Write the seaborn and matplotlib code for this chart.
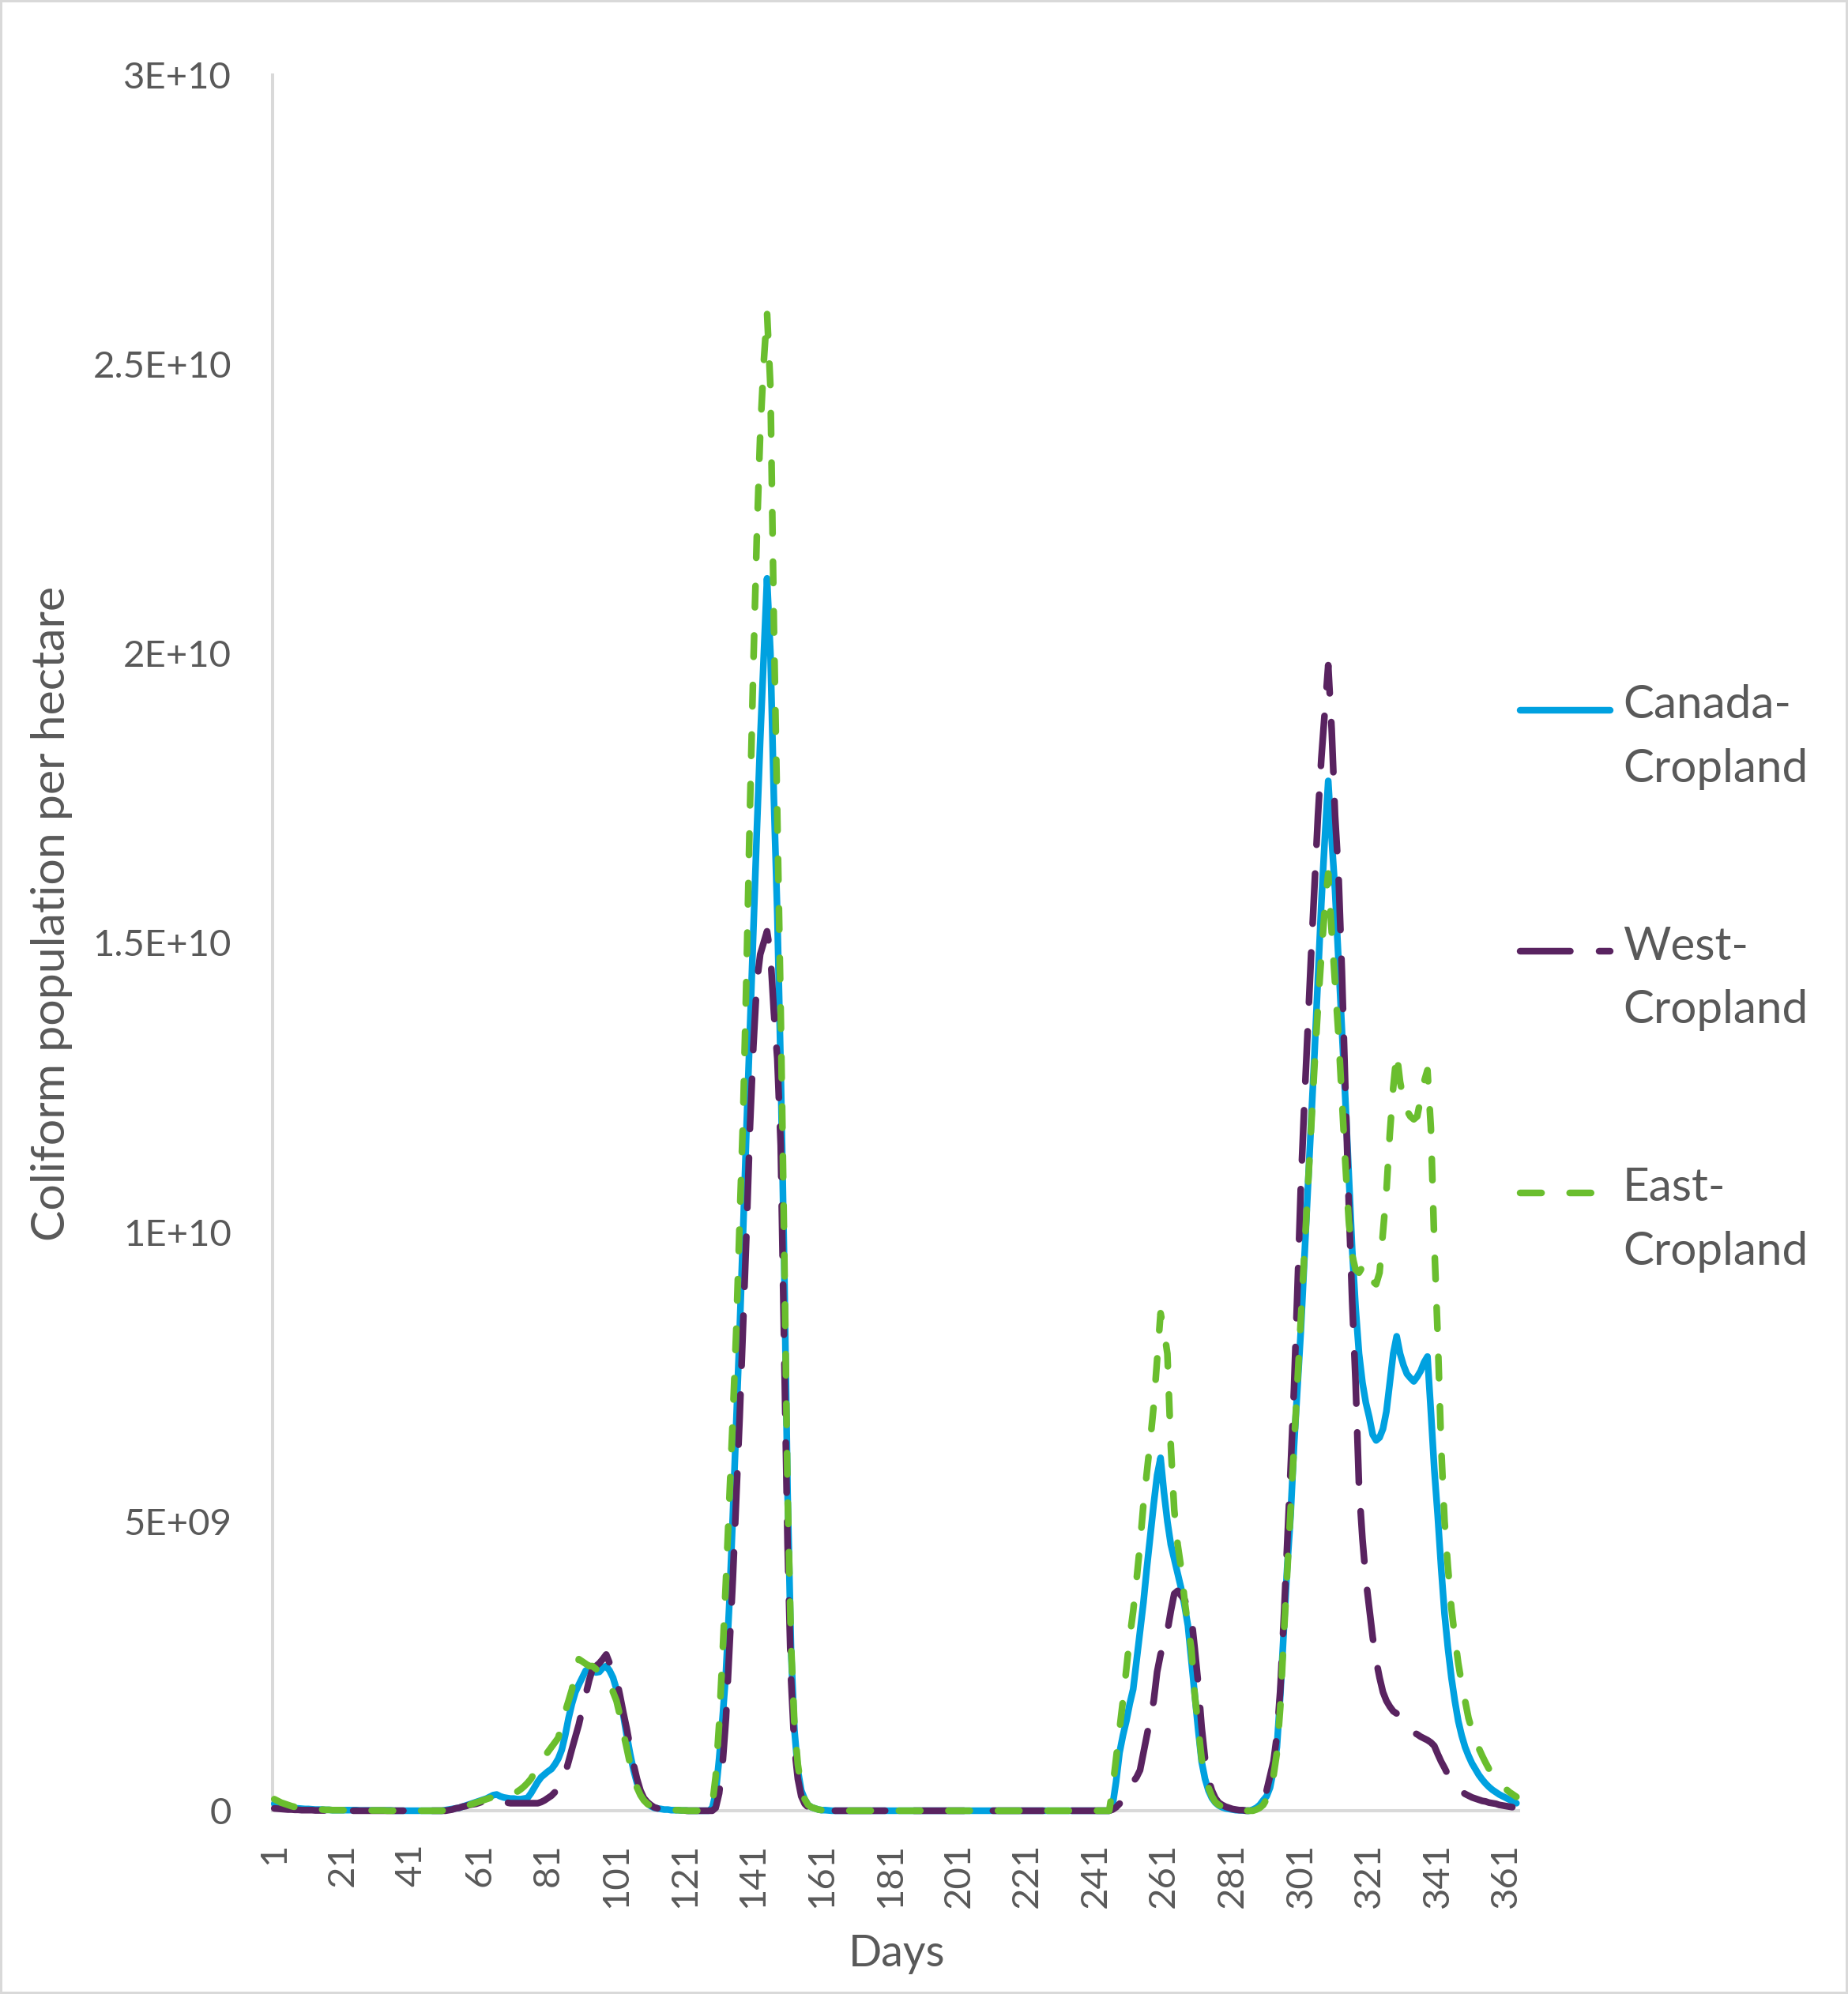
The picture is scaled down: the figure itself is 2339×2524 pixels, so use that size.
import numpy as np
import pandas as pd
import matplotlib
matplotlib.use("Agg")
import matplotlib.pyplot as plt
import seaborn as sns
from matplotlib.legend_handler import HandlerLine2D
from matplotlib.patches import Rectangle
from matplotlib.font_manager import FontProperties

# ---------------- data (values in units of 1E+09 coliforms per hectare) ----------------
days = list(range(1, 365))

canada_cropland = [
    0.12, 0.10, 0.08, 0.07, 0.06, 0.05, 0.045, 0.04, 0.035, 0.03,
    0.03, 0.025, 0.02, 0.02, 0.02, 0.015, 0.015, 0.01, 0.01, 0.01,
    0.01, 0.01, 0.01, 0.01, 0.01, 0.005, 0.005, 0.005, 0.005, 0.005,
    0.005, 0.005, 0.005, 0.005, 0.005, 0, 0, 0, 0, 0,
    0, 0, 0, 0, 0, 0, 0, 0, 0, 0,
    0.01, 0.02, 0.03, 0.04, 0.05, 0.07, 0.09, 0.11, 0.13, 0.15,
    0.17, 0.19, 0.21, 0.24, 0.27, 0.28, 0.25, 0.23, 0.22, 0.21,
    0.21, 0.20, 0.20, 0.21, 0.22, 0.30, 0.40, 0.50, 0.58, 0.63,
    0.68, 0.72, 0.80, 0.90, 1.05, 1.30, 1.60, 1.85, 2.05, 2.18,
    2.30, 2.42, 2.45, 2.42, 2.39, 2.40, 2.47, 2.50, 2.42, 2.30,
    2.10, 1.90, 1.65, 1.30, 0.98, 0.70, 0.48, 0.32, 0.20, 0.13,
    0.08, 0.05, 0.04, 0.03, 0.02, 0.02, 0.01, 0.01, 0.01, 0.005,
    0.005, 0, 0, 0, 0, 0, 0, 0, 0.05, 0.30,
    0.90, 1.60, 2.40, 3.60, 5.10, 6.70, 8.30, 10.0, 11.8, 13.5,
    15.2, 16.9, 18.5, 19.9, 21.3, 20.0, 17.5, 15.5, 12.8, 9.5,
    5.5, 2.8, 1.4, 0.70, 0.35, 0.20, 0.10, 0.06, 0.04, 0.02,
    0.01, 0.01, 0.005, 0, 0, 0, 0, 0, 0, 0,
    0, 0, 0, 0, 0, 0, 0, 0, 0, 0,
    0, 0, 0, 0, 0, 0, 0, 0, 0, 0,
    0, 0, 0, 0, 0, 0, 0, 0, 0, 0,
    0, 0, 0, 0, 0, 0, 0, 0, 0, 0,
    0, 0, 0, 0, 0, 0, 0, 0, 0, 0,
    0, 0, 0, 0, 0, 0, 0, 0, 0, 0,
    0, 0, 0, 0, 0, 0, 0, 0, 0, 0,
    0, 0, 0, 0, 0, 0.10, 0.50, 1.00, 1.30, 1.55,
    1.85, 2.10, 2.60, 3.10, 3.60, 4.20, 4.75, 5.30, 5.80, 6.10,
    5.50, 5.00, 4.60, 4.35, 4.10, 3.85, 3.55, 3.20, 2.60, 2.00,
    1.40, 0.85, 0.55, 0.35, 0.22, 0.14, 0.09, 0.06, 0.04, 0.03,
    0.02, 0.01, 0.01, 0.005, 0, 0, 0.02, 0.05, 0.10, 0.18,
    0.25, 0.40, 0.70, 1.10, 2.00, 3.10, 4.20, 5.10, 6.30, 7.30,
    8.3, 9.5, 10.7, 11.9, 13.1, 14.4, 15.7, 16.8, 17.8, 16.8,
    15.9, 14.7, 13.5, 12.3, 11.0, 9.7, 8.7, 7.9, 7.4, 7.05,
    6.8, 6.5, 6.4, 6.45, 6.6, 6.9, 7.4, 7.9, 8.2, 7.9,
    7.7, 7.55, 7.48, 7.42, 7.5, 7.6, 7.75, 7.85, 6.9, 5.9,
    5.1, 4.2, 3.4, 2.8, 2.3, 1.9, 1.55, 1.3, 1.1, 0.95,
    0.82, 0.72, 0.62, 0.54, 0.47, 0.41, 0.36, 0.32, 0.28, 0.25,
    0.22, 0.19, 0.16, 0.13,
]

west_cropland = [
    0.04, 0.035, 0.03, 0.025, 0.02, 0.02, 0.015, 0.015, 0.01, 0.01,
    0.01, 0.01, 0.005, 0.005, 0.005, 0.005, 0.005, 0, 0, 0,
    0, 0, 0, 0, 0, 0, 0, 0, 0, 0,
    0, 0, 0, 0, 0, 0, 0, 0, 0, 0,
    0, 0, 0, 0, 0, 0, 0, 0, 0, 0,
    0, 0.01, 0.02, 0.04, 0.05, 0.07, 0.08, 0.10, 0.11, 0.12,
    0.14, 0.16, 0.18, 0.20, 0.22, 0.22, 0.17, 0.15, 0.14, 0.13,
    0.13, 0.13, 0.13, 0.13, 0.13, 0.13, 0.13, 0.13, 0.15, 0.18,
    0.22, 0.26, 0.32, 0.42, 0.52, 0.64, 0.85, 1.07, 1.28, 1.49,
    1.75, 2.00, 2.25, 2.45, 2.50, 2.55, 2.62, 2.70, 2.55, 2.42,
    2.28, 2.00, 1.70, 1.42, 1.10, 0.80, 0.55, 0.35, 0.22, 0.15,
    0.10, 0.06, 0.04, 0.03, 0.02, 0.01, 0.01, 0.005, 0, 0,
    0, 0, 0, 0, 0, 0, 0, 0, 0, 0.05,
    0.30, 0.80, 1.60, 2.80, 4.00, 5.40, 6.80, 8.40, 10.0, 11.8,
    13.2, 14.3, 14.8, 15.0, 15.2, 14.8, 13.8, 13.0, 11.5, 8.0,
    4.6, 2.3, 1.1, 0.55, 0.25, 0.12, 0.06, 0.03, 0.02, 0.01,
    0.005, 0, 0, 0, 0, 0, 0, 0, 0, 0,
    0, 0, 0, 0, 0, 0, 0, 0, 0, 0,
    0, 0, 0, 0, 0, 0, 0, 0, 0, 0,
    0, 0, 0, 0, 0, 0, 0, 0, 0, 0,
    0, 0, 0, 0, 0, 0, 0, 0, 0, 0,
    0, 0, 0, 0, 0, 0, 0, 0, 0, 0,
    0, 0, 0, 0, 0, 0, 0, 0, 0, 0,
    0, 0, 0, 0, 0, 0, 0, 0, 0, 0,
    0, 0, 0, 0, 0, 0.02, 0.06, 0.12, 0.20, 0.30,
    0.40, 0.50, 0.58, 0.70, 1.00, 1.30, 1.60, 1.90, 2.40, 2.70,
    2.90, 3.10, 3.45, 3.75, 3.80, 3.72, 3.65, 3.50, 3.35, 2.80,
    2.20, 1.45, 0.90, 0.55, 0.35, 0.22, 0.14, 0.10, 0.07, 0.05,
    0.03, 0.02, 0.01, 0.01, 0, 0, 0.02, 0.05, 0.10, 0.20,
    0.35, 0.60, 0.85, 1.30, 2.10, 3.30, 4.60, 5.90, 7.30, 9.00,
    10.8, 12.2, 13.5, 14.8, 16.0, 17.2, 18.2, 19.0, 19.8, 18.7,
    17.2, 16.2, 14.5, 12.5, 10.5, 8.8, 7.4, 5.6, 4.7, 4.0,
    3.5, 3.0, 2.6, 2.3, 2.05, 1.9, 1.8, 1.72, 1.68, 1.6,
    1.52, 1.45, 1.4, 1.35, 1.32, 1.28, 1.25, 1.22, 1.18, 1.12,
    0.98, 0.85, 0.74, 0.62, 0.52, 0.44, 0.38, 0.33, 0.29, 0.26,
    0.23, 0.21, 0.19, 0.17, 0.16, 0.14, 0.13, 0.12, 0.10, 0.09,
    0.08, 0.07, 0.06, 0.05,
]

east_cropland = [
    0.20, 0.17, 0.14, 0.12, 0.10, 0.08, 0.065, 0.055, 0.045, 0.04,
    0.035, 0.03, 0.025, 0.02, 0.02, 0.015, 0.015, 0.01, 0.01, 0.01,
    0.01, 0.01, 0.01, 0.01, 0.005, 0.005, 0.005, 0.005, 0.005, 0.005,
    0.005, 0.005, 0.005, 0, 0, 0, 0, 0, 0, 0,
    0, 0, 0, 0, 0, 0, 0, 0, 0, 0,
    0.01, 0.02, 0.03, 0.04, 0.05, 0.07, 0.09, 0.10, 0.12, 0.14,
    0.16, 0.18, 0.20, 0.22, 0.24, 0.25, 0.25, 0.26, 0.27, 0.28,
    0.30, 0.33, 0.37, 0.42, 0.48, 0.55, 0.65, 0.75, 0.85, 0.94,
    1.02, 1.10, 1.18, 1.26, 1.50, 1.71, 1.90, 2.10, 2.40, 2.62,
    2.58, 2.54, 2.50, 2.50, 2.45, 2.40, 2.33, 2.27, 2.18, 2.05,
    1.90, 1.65, 1.35, 1.08, 0.80, 0.58, 0.40, 0.27, 0.18, 0.12,
    0.08, 0.05, 0.04, 0.03, 0.02, 0.02, 0.01, 0.01, 0.01, 0.005,
    0.005, 0, 0, 0, 0, 0, 0, 0, 0.10, 0.60,
    1.5, 2.7, 4.0, 5.4, 6.8, 8.3, 10.2, 12.0, 14.5, 17.3,
    19.8, 22.0, 23.8, 25.0, 25.9, 24.6, 20.5, 17.2, 13.8, 9.8,
    5.5, 2.9, 1.5, 0.8, 0.4, 0.2, 0.1, 0.06, 0.04, 0.02,
    0.01, 0.01, 0.005, 0, 0, 0, 0, 0, 0, 0,
    0, 0, 0, 0, 0, 0, 0, 0, 0, 0,
    0, 0, 0, 0, 0, 0, 0, 0, 0, 0,
    0, 0, 0, 0, 0, 0, 0, 0, 0, 0,
    0, 0, 0, 0, 0, 0, 0, 0, 0, 0,
    0, 0, 0, 0, 0, 0, 0, 0, 0, 0,
    0, 0, 0, 0, 0, 0, 0, 0, 0, 0,
    0, 0, 0, 0, 0, 0, 0, 0, 0, 0,
    0, 0, 0, 0, 0, 0.40, 0.90, 1.40, 1.90, 2.45,
    3.00, 3.45, 4.00, 4.60, 5.30, 5.85, 6.40, 7.00, 7.80, 8.60,
    8.30, 7.90, 6.30, 5.20, 4.60, 4.20, 3.65, 3.20, 2.80, 2.00,
    1.45, 0.90, 0.60, 0.40, 0.25, 0.15, 0.10, 0.07, 0.05, 0.03,
    0.02, 0.01, 0.01, 0.005, 0, 0, 0, 0.02, 0.05, 0.10,
    0.20, 0.35, 0.60, 1.00, 1.80, 3.00, 4.10, 5.20, 6.30, 7.40,
    8.5, 9.6, 10.7, 11.8, 12.9, 13.9, 14.8, 15.6, 16.2, 15.2,
    14.3, 13.4, 12.3, 11.2, 10.2, 9.6, 9.35, 9.3, 9.4, 9.3,
    9.35, 9.15, 9.1, 9.3, 10.0, 10.7, 11.7, 12.5, 13.1, 12.6,
    12.3, 12.1, 12.0, 11.95, 12.0, 12.3, 12.6, 12.8, 11.8, 9.8,
    8.2, 6.3, 5.0, 4.2, 3.5, 3.0, 2.55, 2.2, 1.9, 1.6,
    1.4, 1.22, 1.08, 0.95, 0.83, 0.72, 0.63, 0.56, 0.49, 0.43,
    0.37, 0.32, 0.28, 0.24,
]

series_labels = ["Canada-\nCropland", "West-\nCropland", "East-\nCropland"]
y_ticks = [0, 5e9, 1e10, 1.5e10, 2e10, 2.5e10, 3e10]
y_tick_labels = ["0", "5E+09", "1E+10", "1.5E+10", "2E+10", "2.5E+10", "3E+10"]
x_ticks = list(range(1, 362, 20))
x_tick_labels = [str(d) for d in x_ticks]
x_title = "Days"
y_title = "Coliform population per hectare"

assert len(canada_cropland) == len(west_cropland) == len(east_cropland) == len(days)

# ---------------- styling ----------------
W, H, DPI = 2339, 2524, 100
TEXT = "#595959"
AXIS = "#D9D9D9"
colors = ["#00A1E0", "#592360", "#6ABE2E"]
LW = 6.1  # points (~8.5 px)
styles = [None, (7.5, 4.3), (3.2, 4.2)]

sns.set_style("white")
plt.rcParams["font.family"] = ["Lato", "DejaVu Sans"]

df = pd.concat([
    pd.DataFrame({"Day": days, "Value": np.array(vals) * 1e9, "Series": name})
    for name, vals in zip(series_labels, [canada_cropland, west_cropland, east_cropland])
], ignore_index=True)

fig = plt.figure(figsize=(W / DPI, H / DPI), dpi=DPI)
ax = fig.add_axes([345 / W, 1 - 2292 / H, (1921.5 - 345) / W, (2292 - 95) / H])

lines = []
for name, col, dash in zip(series_labels, colors, styles):
    kw = dict(solid_capstyle="round", solid_joinstyle="round",
              dash_capstyle="round", dash_joinstyle="round")
    if dash is not None:
        kw["dashes"] = dash
    sns.lineplot(data=df[df["Series"] == name], x="Day", y="Value", ax=ax,
                 color=col, linewidth=LW, label=name, zorder=3, clip_on=False,
                 legend=False, **kw)
    lines.append(ax.lines[-1])

ax.set_xlim(0.5, 364.5)
ax.set_ylim(0, 3e10)
ax.set_xticks(x_ticks)
ax.set_xticklabels(x_tick_labels)
ax.set_yticks(y_ticks)
ax.set_yticklabels(y_tick_labels)
ax.tick_params(axis="x", length=0, pad=29.5, labelrotation=90, labelsize=34, labelcolor=TEXT)
ax.tick_params(axis="y", length=0, pad=37.5, labelsize=34, labelcolor=TEXT)
ax.grid(False)

for s in ["top", "right"]:
    ax.spines[s].set_visible(False)
for s in ["left", "bottom"]:
    ax.spines[s].set_color(AXIS)
    ax.spines[s].set_linewidth(2.9)
    ax.spines[s].set_zorder(1)

ax.set_xlabel(x_title, fontsize=40, color=TEXT)
ax.xaxis.set_label_coords(1135 / W, (H - 2489) / H, transform=fig.transFigure)
ax.xaxis.label.set_verticalalignment("baseline")
ax.set_ylabel(y_title, fontsize=42.5, color=TEXT)
ax.yaxis.set_label_coords(66 / W, 1 - 1156 / H, transform=fig.transFigure)
ax.yaxis.label.set_verticalalignment("center")

# ---------------- legend: handle aligned with first text line ----------------
LEG_FS = 42
LEG_LS = 1.64
renderer = fig.canvas.get_renderer()
fp = FontProperties(family=["Lato", "DejaVu Sans"], size=LEG_FS)
_, lp_h, lp_d = renderer.get_text_width_height_descent("lp", fp, ismath=False)
step_pt = LEG_LS * (lp_h - lp_d) * 72 / DPI


class FirstLineHandler(HandlerLine2D):
    """Legend labels are two lines; the key sits level with the first one."""
    def __init__(self, shift, **kw):
        super().__init__(**kw)
        self.shift = shift

    def create_artists(self, legend, orig_handle, xdescent, ydescent, width, height, fontsize, trans):
        arts = super().create_artists(legend, orig_handle, xdescent, ydescent, width, height, fontsize, trans)
        for a in arts:
            a.set_ydata(np.asarray(a.get_ydata(), dtype=float) + self.shift)
        return arts


leg = ax.legend(handles=lines, labels=series_labels, loc="upper left",
                bbox_to_anchor=(1924 / W, 1 - 866 / H), bbox_transform=fig.transFigure,
                frameon=False, borderpad=0, borderaxespad=0, handlelength=1.95,
                handletextpad=0.28, labelspacing=2.95, prop=fp, labelcolor=TEXT,
                handler_map={ln: FirstLineHandler(step_pt / 2) for ln in lines})
for t in leg.get_texts():
    t.set_linespacing(LEG_LS)

# chart-area border
fig.patches.append(Rectangle((0, 0), 1, 1, transform=fig.transFigure, fill=False,
                             edgecolor=AXIS, linewidth=4.3, zorder=0))

fig.savefig("out.png", dpi=DPI, facecolor="white")
